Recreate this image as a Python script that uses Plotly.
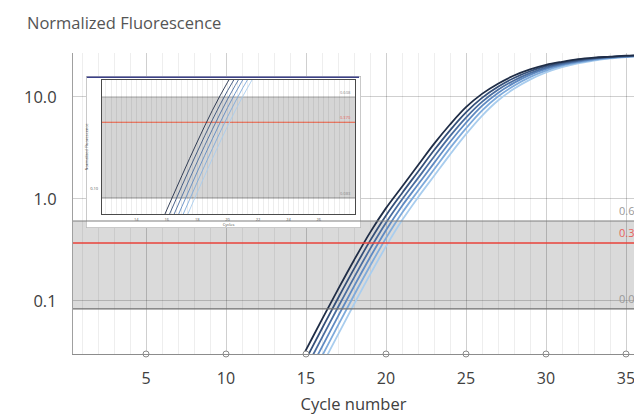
import math
import plotly.graph_objects as go

# ---------------- data ----------------
cycles = list(range(14, 37))
curve_1 = [0.0166, 0.0331, 0.0661, 0.130, 0.251, 0.468, 0.813, 1.318, 2.138, 3.467, 5.370, 7.943,
           10.72, 13.49, 16.22, 18.62, 20.65, 22.13, 23.44, 24.27, 24.83, 25.41, 25.70]
curve_2 = [0.01349, 0.0269, 0.0537, 0.1063, 0.2063, 0.388, 0.689, 1.140, 1.849, 2.999, 4.710, 7.063,
           9.795, 12.59, 15.35, 17.86, 20.02, 21.68, 23.04, 24.02, 24.66, 25.23, 25.62]
curve_3 = [0.01096, 0.02188, 0.04365, 0.0867, 0.1694, 0.322, 0.583, 0.986, 1.600, 2.594, 4.130, 6.281,
           8.954, 11.75, 14.52, 17.14, 19.41, 21.23, 22.65, 23.77, 24.49, 25.06, 25.53]
curve_4 = [0.00891, 0.01778, 0.03548, 0.0707, 0.1391, 0.267, 0.494, 0.853, 1.384, 2.244, 3.622, 5.585,
           8.185, 10.96, 13.74, 16.44, 18.82, 20.80, 22.26, 23.53, 24.32, 24.89, 25.44]
curve_5 = [0.00724, 0.01445, 0.02884, 0.05754, 0.1138, 0.220, 0.413, 0.728, 1.197, 1.941, 3.148, 4.920,
           7.345, 10.09, 12.88, 15.63, 18.11, 20.23, 21.83, 23.17, 24.10, 24.72, 25.29]
curve_6 = [0.00589, 0.01175, 0.02344, 0.04677, 0.0928, 0.181, 0.343, 0.617, 1.035, 1.679, 2.723, 4.315,
           6.531, 9.226, 12.02, 14.79, 17.38, 19.61, 21.38, 22.78, 23.85, 24.55, 25.12]

band_low = 0.0835
threshold = 0.370
band_high = 0.608
band_low_label = "0.083"
threshold_label = "0.370"
band_high_label = "0.608"

x_tick_vals = [5, 10, 15, 20, 25, 30, 35]
y_tick_vals = [0.1, 1, 10]
y_tick_text = ["0.1", "1.0", "10.0"]

inset_x_ticks = [14, 16, 18, 20, 22, 24, 26]
inset_y_ticks = [0.1]
inset_y_text = ["0.10"]

# ---------------- style ----------------
W, H = 634, 415
ML, MR, MT, MB = 73, 0, 53, 61
PW, PH = W - ML - MR, H - MT - MB
FONT = "Open Sans"

curves = [curve_6, curve_5, curve_4, curve_3, curve_2, curve_1]
colors = ["#a9cdee", "#7eaadb", "#5f8ac2", "#4a6d9f", "#35507a", "#1f2d47"]

x_range = [0.4375, 35.5]
y_range = [-1.52, 1.431]


def px_x(p):
    return (p - ML) / PW


def px_y(p):
    return (H - MB - p) / PH


fig = go.Figure()

# main curves
for vals, col in zip(curves, colors):
    fig.add_trace(go.Scatter(x=cycles, y=vals, mode="lines",
                             line=dict(color=col, width=1.8, shape="spline"),
                             xaxis="x", yaxis="y", showlegend=False, hoverinfo="skip"))

# circle tick markers on x axis
fig.add_trace(go.Scatter(x=x_tick_vals, y=[10 ** y_range[0]] * len(x_tick_vals), mode="markers",
                         marker=dict(symbol="circle", size=6, color="white",
                                     line=dict(color="#8a8a8a", width=1)),
                         cliponaxis=False, xaxis="x", yaxis="y", showlegend=False, hoverinfo="skip"))

# inset outer box subplot (empty trace to create it)
fig.add_trace(go.Scatter(x=[None], y=[None], xaxis="x2", yaxis="y2", showlegend=False, hoverinfo="skip"))

# inset curves
for vals, col in zip(curves, colors):
    fig.add_trace(go.Scatter(x=cycles, y=vals, mode="lines",
                             line=dict(color=col, width=0.9, shape="spline"),
                             xaxis="x3", yaxis="y3", showlegend=False, hoverinfo="skip"))

shapes = []
# main band + threshold
shapes.append(dict(type="rect", xref="x", yref="y", x0=-100, x1=100, y0=band_low, y1=band_high,
                   fillcolor="#dadada", line=dict(width=0), layer="below"))
shapes.append(dict(type="line", xref="x", yref="y", x0=-100, x1=100, y0=band_high, y1=band_high,
                   line=dict(color="#7f7f7f", width=1.2), layer="above"))
shapes.append(dict(type="line", xref="x", yref="y", x0=-100, x1=100, y0=band_low, y1=band_low,
                   line=dict(color="#6f6f6f", width=1.2), layer="above"))
shapes.append(dict(type="line", xref="x", yref="y", x0=-100, x1=100, y0=threshold, y1=threshold,
                   line=dict(color="#e8423a", width=1.5), layer="above"))

# inset outer white box
shapes.append(dict(type="rect", xref="x2", yref="y2", x0=0, x1=1, y0=0, y1=1,
                   fillcolor="white", line=dict(color="#b8b8b8", width=1.5), layer="below"))
shapes.append(dict(type="line", xref="x2", yref="y2", x0=0.003, x1=0.993, y0=0.992, y1=0.992,
                   line=dict(color="#3a3f88", width=1.6), layer="below"))

# inset band + threshold
shapes.append(dict(type="rect", xref="x3", yref="y3", x0=-100, x1=100, y0=band_low, y1=band_high,
                   fillcolor="#d5d5d5", line=dict(width=0), layer="below"))
shapes.append(dict(type="line", xref="x3", yref="y3", x0=-100, x1=100, y0=band_high, y1=band_high,
                   line=dict(color="#8a8a8a", width=0.8), layer="below"))
shapes.append(dict(type="line", xref="x3", yref="y3", x0=-100, x1=100, y0=band_low, y1=band_low,
                   line=dict(color="#777777", width=0.8), layer="below"))
shapes.append(dict(type="line", xref="x3", yref="y3", x0=-100, x1=100, y0=threshold, y1=threshold,
                   line=dict(color="#ec5a3e", width=1.0), layer="below"))

annotations = [
    dict(text="Normalized Fluorescence", xref="paper", yref="paper", x=px_x(25), y=px_y(22),
         xanchor="left", yanchor="middle", showarrow=False,
         font=dict(family=FONT, size=16.5, color="#555555")),
    dict(text=band_high_label, xref="x", yref="y", x=34.45, y=math.log10(band_high), xanchor="left",
         yanchor="bottom", yshift=1, showarrow=False, font=dict(family=FONT, size=11, color="#999999")),
    dict(text=threshold_label, xref="x", yref="y", x=34.45, y=math.log10(threshold), xanchor="left",
         yanchor="bottom", yshift=1, showarrow=False, font=dict(family=FONT, size=11, color="#e8625a")),
    dict(text=band_low_label, xref="x", yref="y", x=34.45, y=math.log10(band_low), xanchor="left",
         yanchor="bottom", yshift=1, showarrow=False, font=dict(family=FONT, size=11, color="#999999")),
    dict(text=band_high_label, xref="x3", yref="y3", x=28.25, y=math.log10(band_high), xanchor="right",
         yanchor="bottom", showarrow=False, font=dict(family=FONT, size=4, color="#888888")),
    dict(text=threshold_label, xref="x3", yref="y3", x=28.25, y=math.log10(threshold), xanchor="right",
         yanchor="bottom", showarrow=False, font=dict(family=FONT, size=4, color="#e8625a")),
    dict(text=band_low_label, xref="x3", yref="y3", x=28.25, y=math.log10(band_low), xanchor="right",
         yanchor="bottom", showarrow=False, font=dict(family=FONT, size=4, color="#888888")),
]

fig.update_layout(
    width=W, height=H, template=None,
    margin=dict(l=ML, r=MR, t=MT, b=MB, pad=0),
    paper_bgcolor="white", plot_bgcolor="white",
    showlegend=False, shapes=shapes, annotations=annotations,
    font=dict(family=FONT, color="#404040"),
    xaxis=dict(domain=[0, 1], range=x_range, tickmode="array", tickvals=x_tick_vals,
               showgrid=True, gridcolor="rgba(0,0,0,0.13)", gridwidth=1,
               minor=dict(tickmode="linear", tick0=0, dtick=1, showgrid=True,
                          gridcolor="rgba(0,0,0,0.065)", gridwidth=1),
               showline=True, linecolor="#8c8c8c", linewidth=1.2, ticks="", zeroline=False,
               tickfont=dict(family=FONT, size=16, color="#404040"), ticklabelstandoff=10,
               ticklabeloverflow="allow",
               title=dict(text="Cycle number", font=dict(family=FONT, size=16.5, color="#404040"),
                          standoff=10),
               automargin=False, anchor="y"),
    yaxis=dict(domain=[0, 1], type="log", range=y_range, tickmode="array", tickvals=y_tick_vals,
               ticktext=y_tick_text, showgrid=True, gridcolor="rgba(0,0,0,0.19)", gridwidth=1,
               showline=True, linecolor="#a0a0a0", linewidth=1.2, ticks="", zeroline=False,
               tickfont=dict(family=FONT, size=16.5, color="#404040"), ticklabelstandoff=12,
               automargin=False, anchor="x"),
    xaxis2=dict(domain=[px_x(86), px_x(361)], range=[0, 1], visible=False, anchor="y2",
                showgrid=False, zeroline=False),
    yaxis2=dict(domain=[px_y(228), px_y(76)], range=[0, 1], visible=False, anchor="x2",
                showgrid=False, zeroline=False),
    xaxis3=dict(domain=[px_x(102), px_x(355)], range=[11.74, 28.38], tickmode="array",
                tickvals=inset_x_ticks, showgrid=False,
                minor=dict(tickmode="linear", tick0=0, dtick=1 / 3, showgrid=True,
                           gridcolor="rgba(0,0,0,0.07)", gridwidth=0.8),
                showline=True, mirror=True, linecolor="#4a4a4a", linewidth=1.3, ticks="",
                zeroline=False, tickfont=dict(family=FONT, size=4, color="#555555"),
                ticklabelstandoff=1,
                title=dict(text="Cycles", font=dict(family=FONT, size=4, color="#444444"), standoff=1),
                automargin=False, anchor="y3"),
    yaxis3=dict(domain=[px_y(214), px_y(80)], type="log", range=[-1.215, -0.071], tickmode="array",
                tickvals=inset_y_ticks, ticktext=inset_y_text, showgrid=False,
                showline=True, mirror=True, linecolor="#4a4a4a", linewidth=1.3, ticks="",
                zeroline=False, tickfont=dict(family=FONT, size=4, color="#555555"),
                ticklabelstandoff=2,
                title=dict(text="Normalized Fluorescence", font=dict(family=FONT, size=4, color="#444444"),
                           standoff=1),
                automargin=False, anchor="x3"),
)

fig.write_html(
    "out.html",
    config={"displayModeBar": False},
    post_script="document.body.style.margin='0';document.documentElement.style.overflow='hidden';",
)
